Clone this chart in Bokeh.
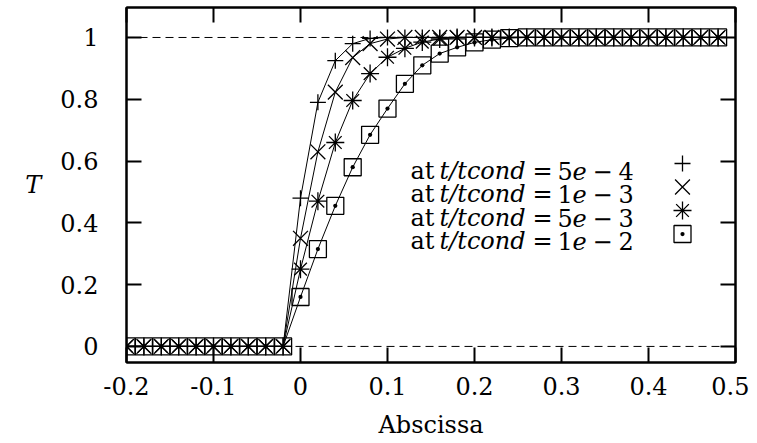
from bokeh.plotting import figure
from bokeh.models import Span, LinearAxis, FixedTicker, Range1d
from bokeh.core.properties import value
from bokeh.embed import file_html
from bokeh.resources import INLINE

# ---------------- data ----------------
x = [-0.20, -0.18, -0.16, -0.14, -0.12, -0.10, -0.08, -0.06, -0.04, -0.02,
     0.00, 0.02, 0.04, 0.06, 0.08, 0.10, 0.12, 0.14, 0.16, 0.18,
     0.20, 0.22, 0.24, 0.26, 0.28, 0.30, 0.32, 0.34, 0.36, 0.38,
     0.40, 0.42, 0.44, 0.46, 0.48]

T_5e4 = [0, 0, 0, 0, 0, 0, 0, 0, 0, 0,
         0.48, 0.79, 0.925, 0.98, 0.997, 1, 1, 1, 1, 1,
         1, 1, 1, 1, 1, 1, 1, 1, 1, 1,
         1, 1, 1, 1, 1]
T_1e3 = [0, 0, 0, 0, 0, 0, 0, 0, 0, 0,
         0.35, 0.63, 0.823, 0.935, 0.98, 0.995, 1, 1, 1, 1,
         1, 1, 1, 1, 1, 1, 1, 1, 1, 1,
         1, 1, 1, 1, 1]
T_5e3 = [0, 0, 0, 0, 0, 0, 0, 0, 0, 0,
         0.25, 0.47, 0.66, 0.796, 0.883, 0.936, 0.965, 0.985, 0.995, 1,
         1, 1, 1, 1, 1, 1, 1, 1, 1, 1,
         1, 1, 1, 1, 1]
T_1e2 = [0, 0, 0, 0, 0, 0, 0, 0, 0, 0,
         0.16, 0.315, 0.455, 0.58, 0.685, 0.77, 0.85, 0.91, 0.948, 0.968,
         0.984, 0.993, 0.998, 1, 1, 1, 1, 1, 1, 1,
         1, 1, 1, 1, 1]

series = [T_5e4, T_1e3, T_5e3, T_1e2]
legend_mantissa = ["5", "1", "5", "1"]
legend_exponent = ["4", "3", "3", "2"]
markers = ["cross", "x", "asterisk", "square_dot"]

x_ticks = [-0.2, -0.1, 0.0, 0.1, 0.2, 0.3, 0.4, 0.5]
x_tick_labels = ["-0.2", "-0.1", "0", "0.1", "0.2", "0.3", "0.4", "0.5"]
y_ticks = [0.0, 0.2, 0.4, 0.6, 0.8, 1.0]
y_tick_labels = ["0", "0.2", "0.4", "0.6", "0.8", "1"]

# ---------------- layout / style ----------------
FONT = "DejaVu Serif"
FS = "24px"
XMIN, XMAX = -0.2, 0.5
YMIN, YMAX = -0.052, 1.097
W, H = 749, 441
FRAME_L, FRAME_R, FRAME_T, FRAME_B = 126, 735, 7, 362  # canvas px

p = figure(width=W, height=H,
           x_range=Range1d(XMIN, XMAX), y_range=Range1d(YMIN, YMAX),
           output_backend="svg", toolbar_location=None,
           min_border_left=FRAME_L, min_border_right=W - FRAME_R,
           min_border_top=FRAME_T, min_border_bottom=H - FRAME_B)
p.xgrid.visible = False
p.ygrid.visible = False
p.outline_line_color = "black"
p.outline_line_width = 2
p.background_fill_color = "white"
p.border_fill_color = "white"


def style_axis(ax, labels=True):
    ax.major_tick_in = 15
    ax.major_tick_out = 0
    ax.minor_tick_in = 0
    ax.minor_tick_out = 0
    ax.major_tick_line_width = 2
    ax.major_tick_line_color = "black"
    ax.axis_line_width = 2
    ax.axis_line_color = "black"
    ax.major_label_text_font = FONT
    if labels:
        ax.major_label_text_font_size = FS
        ax.major_label_text_color = "black"
    else:
        ax.major_label_text_font_size = "1px"
        ax.major_label_text_color = None
        ax.major_label_standoff = 0


xa = p.xaxis[0]
xa.ticker = FixedTicker(ticks=x_ticks)
xa.major_label_overrides = {t: l for t, l in zip(x_ticks, x_tick_labels)}
style_axis(xa)
xa.major_label_standoff = 14
xa.axis_label = "Abscissa"
xa.axis_label_text_font = FONT
xa.axis_label_text_font_size = FS
xa.axis_label_text_font_style = "normal"
xa.axis_label_text_color = "black"
xa.axis_label_standoff = 13

ya = p.yaxis[0]
ya.ticker = FixedTicker(ticks=y_ticks)
ya.major_label_overrides = {t: l for t, l in zip(y_ticks, y_tick_labels)}
style_axis(ya)
ya.major_label_standoff = 28
ya.axis_label = "T"
ya.axis_label_text_font = FONT
ya.axis_label_text_font_size = FS
ya.axis_label_text_font_style = "italic"
ya.axis_label_text_color = "black"
ya.axis_label_orientation = "horizontal"
ya.axis_label_standoff = 16

top = LinearAxis(ticker=FixedTicker(ticks=x_ticks))
style_axis(top, labels=False)
p.add_layout(top, "above")
right = LinearAxis(ticker=FixedTicker(ticks=y_ticks))
style_axis(right, labels=False)
p.add_layout(right, "right")

for loc in (0, 1):
    p.add_layout(Span(location=loc, dimension="width", line_color="black",
                      line_width=1, line_dash="8 5"))

sizes = {"cross": 16, "x": 21, "asterisk": 18, "square_dot": 17}
for s in series:
    p.line(x, s, line_color="black", line_width=1)
for s, m in zip(series, markers):
    p.scatter(x, s, marker=m, size=sizes[m], line_color="black",
              fill_color=None, line_width=1.3)


# ---------------- manual legend (text left, symbol right) ----------------
def px2x(px):
    return XMIN + (px - FRAME_L) / (FRAME_R - FRAME_L) * (XMAX - XMIN)


def py2y(py):
    return YMAX - (py - FRAME_T) / (FRAME_B - FRAME_T) * (YMAX - YMIN)


row_centers = [163, 186.5, 210, 233.5]   # canvas px
for i, (mant, ex, m) in enumerate(zip(legend_mantissa, legend_exponent, markers)):
    base = py2y(row_centers[i] + 7)
    pieces = [("at", "normal", 410), ("t/tcond", "italic", 439),
              ("=", "normal", 532), (mant, "normal", 557),
              ("e", "italic", 572), ("\u2212", "normal", 592),
              (ex, "normal", 618)]
    for txt, style, px in pieces:
        p.text(x=[px2x(px)], y=[base], text=[txt],
               text_font=value(FONT), text_font_size=FS,
               text_font_style=style, text_color="black",
               text_align="left", text_baseline="alphabetic")
    p.scatter(x=[px2x(682)], y=[py2y(row_centers[i])], marker=m,
              size=sizes[m], line_color="black", fill_color=None,
              line_width=1.3)

open("out.html", "w").write(file_html(p, INLINE))
